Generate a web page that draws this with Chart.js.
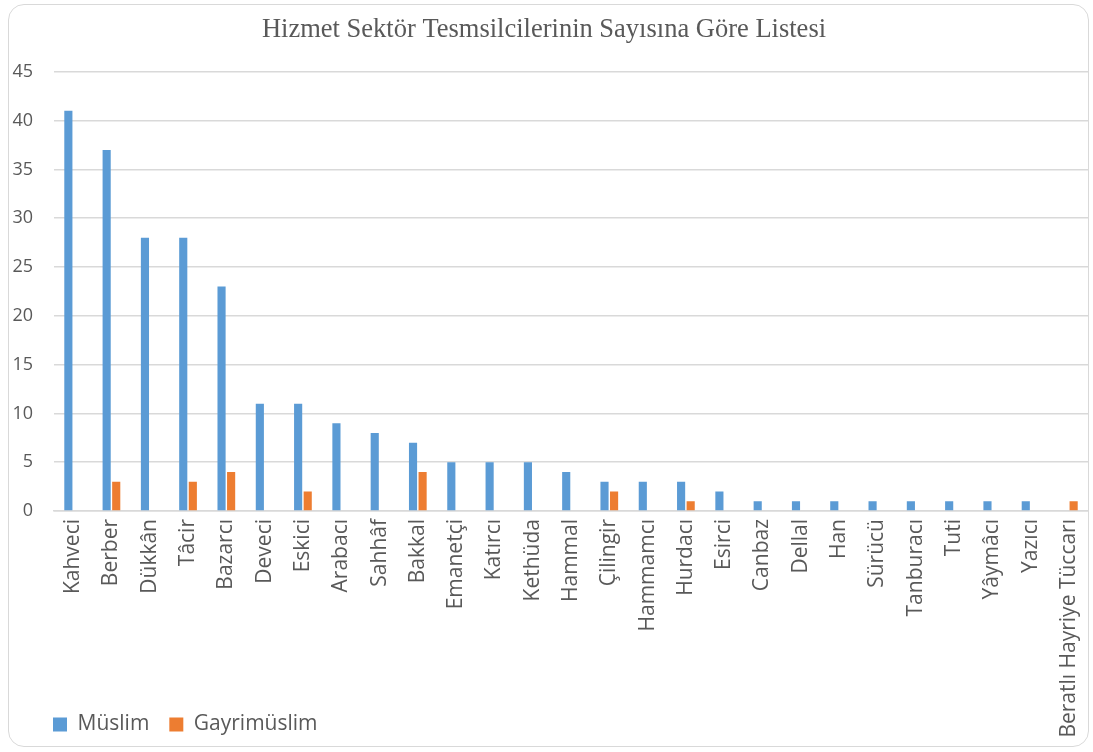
<!DOCTYPE html>
<html>
<head>
<meta charset="utf-8">
<script src="https://cdn.jsdelivr.net/npm/chart.js@4.4.0/dist/chart.umd.min.js"></script>
<style>
  html, body { margin: 0; padding: 0; background: #fff; }
  #wrap { position: relative; width: 1093px; height: 752px; }
  #frame { position: absolute; left: 8px; top: 4px; width: 1081px; height: 743px;
           border: 1px solid #d9d9d9; border-radius: 16px; box-sizing: border-box; pointer-events: none; }
  canvas { position: absolute; left: 0; top: 0; }
</style>
</head>
<body>
<div id="wrap">
  <canvas id="c" width="1093" height="752"></canvas>
  <div id="frame"></div>
</div>
<script>
const titleText = "Hizmet Sektör Tesmsilcilerinin Sayısına Göre Listesi";
const categories = ["Kahveci","Berber","Dükkân","Tâcir","Bazarcı","Deveci","Eskici","Arabacı","Sahhâf","Bakkal","Emanetçi","Katırcı","Kethüda","Hammal","Çilingir","Hammamcı","Hurdacı","Esirci","Canbaz","Dellal","Han","Sürücü","Tanburacı","Tuti","Yâymâcı","Yazıcı","Beratlı Hayriye Tüccarı"];
const muslim =      [41,37,28,28,23,11,11,9,8,7,5,5,5,4,3,3,3,2,1,1,1,1,1,1,1,1,0];
const gayrimuslim = [0,3,0,3,4,0,2,0,0,4,0,0,0,0,2,0,1,0,0,0,0,0,0,0,0,0,1];
const yTicks = [0,5,10,15,20,25,30,35,40,45];

const textColor = "#595959";
const sans = "'Open Sans', 'Noto Sans', sans-serif";

const layoutTweak = {
  id: "layoutTweak",
  afterLayout(chart) {
    if (chart.legend) { chart.legend.left += 33; }
    if (chart.scales.x) { chart.scales.x.bottom = chart.height; }
  }
};

new Chart(document.getElementById("c"), {
  type: "bar",
  data: {
    labels: categories,
    datasets: [
      { label: "Müslim", data: muslim, backgroundColor: "#5B9BD5", borderWidth: 0,
        categoryPercentage: 0.5, barPercentage: 0.85 },
      { label: "Gayrimüslim", data: gayrimuslim, backgroundColor: "#ED7D31", borderWidth: 0,
        categoryPercentage: 0.5, barPercentage: 0.85 }
    ]
  },
  plugins: [layoutTweak],
  options: {
    responsive: false,
    animation: false,
    devicePixelRatio: 1,
    layout: { padding: { left: 0, right: 5, top: 0, bottom: 7 } },
    plugins: {
      title: {
        display: true, text: titleText, color: textColor,
        font: { family: "'Liberation Serif', 'Times New Roman', serif", size: 26.5, weight: "normal" },
        padding: { top: 14, bottom: 26 }
      },
      legend: {
        position: "bottom", align: "start",
        labels: { color: textColor, boxWidth: 14, boxHeight: 14, padding: 20,
                  font: { family: sans, size: 21 } }
      },
      tooltip: { enabled: false }
    },
    scales: {
      x: {
        grid: { display: false, drawTicks: false },
        border: { display: true, color: "#d9d9d9", width: 1.5 },
        ticks: { color: textColor, font: { family: sans, size: 21 }, minRotation: 90, maxRotation: 90,
                 autoSkip: false, padding: 8 },
        afterFit: (s) => { s.height = 183; s.paddingLeft = 0; s.paddingRight = 0; }
      },
      y: {
        min: 0, max: 45,
        afterBuildTicks: (s) => { s.ticks = yTicks.map(v => ({ value: v })); },
        grid: { color: "#d9d9d9", lineWidth: 1.5, drawTicks: false },
        border: { display: false },
        ticks: { color: textColor, font: { family: sans, size: 18 }, padding: 21 },
        afterFit: (s) => { s.width = 54; s.paddingTop = 0; s.paddingBottom = 0; }
      }
    }
  }
});
</script>
</body>
</html>
